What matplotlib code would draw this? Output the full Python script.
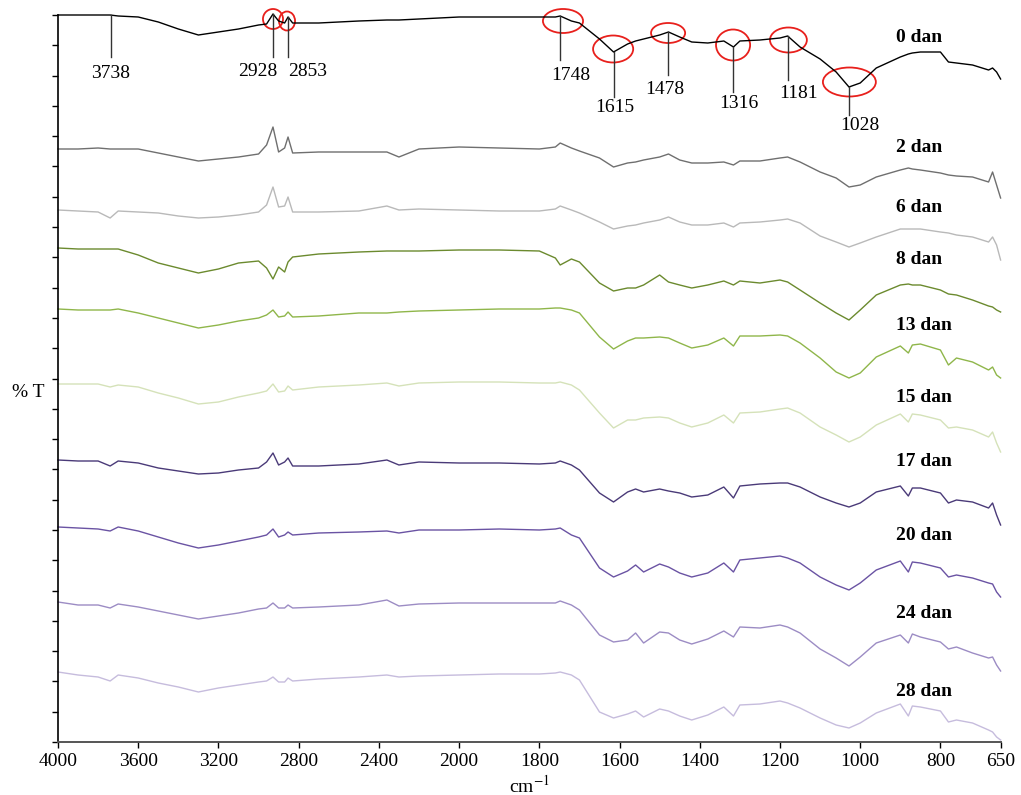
import numpy as np
import matplotlib as mpl
mpl.use('agg')
import matplotlib.pyplot as plt
from matplotlib.patches import Ellipse

plt.rcParams['font.family'] = ['Liberation Serif', 'DejaVu Serif']
plt.rcParams['mathtext.fontset'] = 'stix'

# Wavenumber grid (cm-1), shared by all spectra
wn = [4000, 3900, 3800, 3740, 3700, 3600, 3500, 3400, 3300, 3200,
      3100, 3000, 2960, 2928, 2900, 2870, 2853, 2830, 2700, 2500,
      2360, 2300, 2200, 2000, 1900, 1800, 1760, 1748, 1720, 1700,
      1650, 1615, 1580, 1560, 1540, 1500, 1478, 1450, 1420, 1380,
      1340, 1316, 1300, 1250, 1200, 1181, 1150, 1100, 1060, 1028,
      1000, 960, 900, 880, 870, 850, 800, 780, 760, 720,
      680, 670, 660, 650]

# Stacked %T traces (arbitrary offset units), one per sampling day
t_0 = [727, 727, 727, 727, 726, 725, 720, 713, 707, 710,
       713, 717, 718, 728, 721, 719, 725, 719, 719, 721,
       722, 722, 723, 725, 725, 725, 725, 726, 721, 719,
       703, 690, 698, 701, 703, 707, 710, 705, 700, 699,
       701, 695, 701, 702, 704, 706, 695, 683, 670, 655,
       659, 674, 685, 688, 689, 690, 690, 680, 679, 677,
       672, 674, 670, 663]
t_2 = [593, 593, 594, 593, 593, 593, 589, 585, 581, 583,
       585, 588, 597, 615, 590, 594, 605, 589, 590, 590,
       590, 585, 593, 595, 594, 593, 595, 599, 594, 591,
       584, 575, 579, 580, 582, 585, 588, 582, 579, 579,
       580, 577, 581, 581, 584, 585, 580, 570, 564, 555,
       557, 565, 572, 574, 573, 572, 569, 567, 566, 565,
       560, 570, 557, 544]
t_6 = [532, 531, 530, 524, 531, 530, 529, 526, 524, 525,
       527, 530, 537, 555, 535, 536, 545, 530, 530, 531,
       536, 532, 533, 532, 531, 531, 533, 536, 532, 529,
       520, 513, 516, 517, 519, 522, 525, 520, 517, 517,
       519, 515, 519, 520, 522, 523, 519, 506, 500, 495,
       499, 505, 513, 513, 513, 513, 510, 509, 507, 505,
       500, 505, 497, 482]
t_8 = [494, 493, 493, 493, 493, 487, 479, 474, 469, 473,
       479, 481, 474, 463, 475, 470, 480, 485, 488, 490,
       491, 491, 491, 492, 492, 491, 484, 477, 483, 480,
       459, 451, 454, 454, 457, 467, 460, 457, 454, 457,
       461, 457, 461, 459, 462, 460, 452, 439, 429, 422,
       432, 447, 457, 458, 457, 457, 452, 448, 447, 442,
       436, 435, 432, 430]
t_13 = [433, 432, 432, 432, 433, 429, 424, 419, 414, 417,
        421, 424, 427, 432, 425, 426, 430, 425, 426, 429,
        429, 430, 431, 432, 433, 433, 434, 434, 432, 429,
        405, 393, 401, 404, 404, 405, 404, 399, 394, 397,
        404, 396, 406, 406, 407, 406, 399, 384, 370, 364,
        369, 385, 396, 389, 397, 398, 392, 377, 384, 380,
        372, 375, 367, 364]
t_15 = [358, 358, 358, 355, 357, 355, 349, 344, 338, 340,
        345, 349, 351, 358, 350, 351, 356, 352, 355, 357,
        359, 356, 359, 360, 360, 359, 359, 360, 357, 352,
        329, 314, 322, 322, 324, 325, 324, 319, 315, 319,
        327, 319, 329, 330, 333, 334, 329, 315, 307, 300,
        305, 317, 328, 320, 328, 327, 322, 314, 315, 312,
        305, 310, 299, 290]
t_17 = [282, 281, 281, 276, 281, 279, 274, 271, 268, 269,
        272, 274, 280, 289, 277, 280, 284, 276, 276, 278,
        282, 277, 280, 279, 279, 278, 279, 281, 277, 272,
        249, 240, 250, 253, 250, 253, 251, 249, 245, 247,
        255, 244, 256, 258, 259, 259, 255, 245, 239, 235,
        239, 250, 256, 246, 254, 254, 249, 239, 242, 240,
        234, 239, 227, 217]
t_20 = [215, 214, 213, 211, 215, 211, 205, 199, 194, 197,
        201, 205, 207, 213, 205, 207, 210, 207, 209, 210,
        211, 209, 212, 212, 213, 212, 213, 214, 207, 204,
        174, 165, 171, 177, 170, 178, 175, 169, 165, 169,
        179, 170, 182, 184, 186, 184, 179, 165, 157, 152,
        159, 172, 181, 170, 180, 179, 174, 165, 167, 164,
        159, 158, 150, 145]
t_24 = [140, 137, 137, 134, 138, 135, 131, 127, 123, 126,
        129, 133, 134, 139, 134, 134, 137, 134, 135, 137,
        142, 136, 138, 139, 139, 139, 139, 141, 137, 132,
        107, 100, 102, 109, 99, 110, 109, 102, 98, 103,
        111, 105, 115, 114, 117, 115, 109, 93, 84, 76,
        85, 99, 107, 99, 108, 105, 100, 93, 95, 89,
        84, 85, 77, 71]
t_28 = [70, 67, 65, 61, 67, 64, 59, 55, 50, 54,
        57, 60, 61, 65, 60, 60, 64, 61, 63, 65,
        67, 65, 66, 67, 68, 68, 69, 70, 67, 62,
        30, 24, 28, 31, 25, 33, 31, 26, 22, 27,
        35, 26, 37, 38, 41, 39, 34, 24, 17, 14,
        19, 29, 38, 26, 36, 35, 31, 20, 22, 19,
        12, 10, 5, 2]

traces = [t_0, t_2, t_6, t_8, t_13, t_15, t_17, t_20, t_24, t_28]
names = ['0 dan', '2 dan', '6 dan', '8 dan', '13 dan', '15 dan',
         '17 dan', '20 dan', '24 dan', '28 dan']
colors = ['#000000', '#6f6f6f', '#b9b9b9', '#6b8a2e', '#8fb64a',
          '#d5e2b9', '#4a3a78', '#6a53a3', '#9c8cc4', '#c6bcdd']
name_y = [704, 595, 534, 482, 416, 344, 280, 206, 128, 51]

# Band assignments marked on the 0 dan trace
peak_wn = [3738, 2928, 2853, 1748, 1615, 1478, 1316, 1181, 1028]
peak_text = ['3738', '2928', '2853', '1748', '1615', '1478', '1316',
             '1181', '1028']
line_end = [685, 685, 685, 682, 645, 667, 650, 662, 627]
text_x = [3738, 3002, 2753, 1721, 1611, 1486, 1302, 1155, 1000]
text_y = [668, 670, 670, 667, 634, 652, 638, 648, 617]

# red ellipses: centre wn, centre y, width (cm-1), height
ell_wn = [2928, 2858, 1741, 1616, 1479, 1317, 1179, 1027]
ell_y = [723, 721, 721, 693, 709, 697, 702, 660]
ell_w = [100, 80, 100, 100, 85, 85, 92, 132]
ell_h = [20, 19, 24, 27, 20, 31, 25, 29]


# The axis is compressed above 2000 cm-1 (400 per division vs 200 below)
def fwd(x):
    x = np.asarray(x, dtype=float)
    return np.where(x >= 2000, x / 400.0, x / 200.0 - 5.0)


def inv(u):
    u = np.asarray(u, dtype=float)
    return np.where(u >= 5, u * 400.0, (u + 5.0) * 200.0)


fig = plt.figure(figsize=(10.21, 7.95), dpi=100)
ax = fig.add_axes([58/1021, 53/795, 942.6/1021, 727/795])
ax.set_xscale('function', functions=(fwd, inv))

for t, c in zip(traces, colors):
    ax.plot(wn, t, color=c, lw=1.0, clip_on=False)

for n, y in zip(names, name_y):
    ax.text(910, y, n, fontsize=14, fontweight='bold', ha='left',
            va='center')

wn_r = np.array(wn[::-1])
t0_r = np.array(t_0[::-1])
for p, lab, le, tx, ty in zip(peak_wn, peak_text, line_end, text_x, text_y):
    top = np.interp(p, wn_r, t0_r)
    ax.plot([p, p], [top, le], color='#333333', lw=1.0, clip_on=False)
    ax.text(tx, ty, lab, fontsize=14, ha='center', va='center')

for x, y, w, h in zip(ell_wn, ell_y, ell_w, ell_h):
    ax.add_patch(Ellipse((x, y), w, h, fill=False, edgecolor='#e8201c',
                         lw=1.3, clip_on=False))

ax.set_xlim(4000, 650)
ax.set_ylim(0, 727)
ax.set_xticks([4000, 3600, 3200, 2800, 2400, 2000, 1800, 1600, 1400,
               1200, 1000, 800, 650])
ax.set_xticklabels(['4000', '3600', '3200', '2800', '2400', '2000', '1800',
                    '1600', '1400', '1200', '1000', '800', '650'])
ax.set_yticks(np.linspace(0, 727, 25))
ax.set_yticklabels([])
ax.tick_params(axis='both', direction='out', length=4, width=1,
               labelsize=14)
ax.tick_params(axis='x', pad=4)

for s in ['top', 'right']:
    ax.spines[s].set_visible(False)
ax.spines['left'].set_linewidth(1.2)
ax.spines['bottom'].set_linewidth(1.4)
ax.spines['bottom'].set_color('#555555')

ax.set_xlabel('cm$^{-1}$', fontsize=14, labelpad=3)
ax.set_ylabel('% T', fontsize=14, rotation=0, va='center')
ax.yaxis.set_label_coords(-0.032, 0.481)

plt.savefig('out.png', dpi=100)
